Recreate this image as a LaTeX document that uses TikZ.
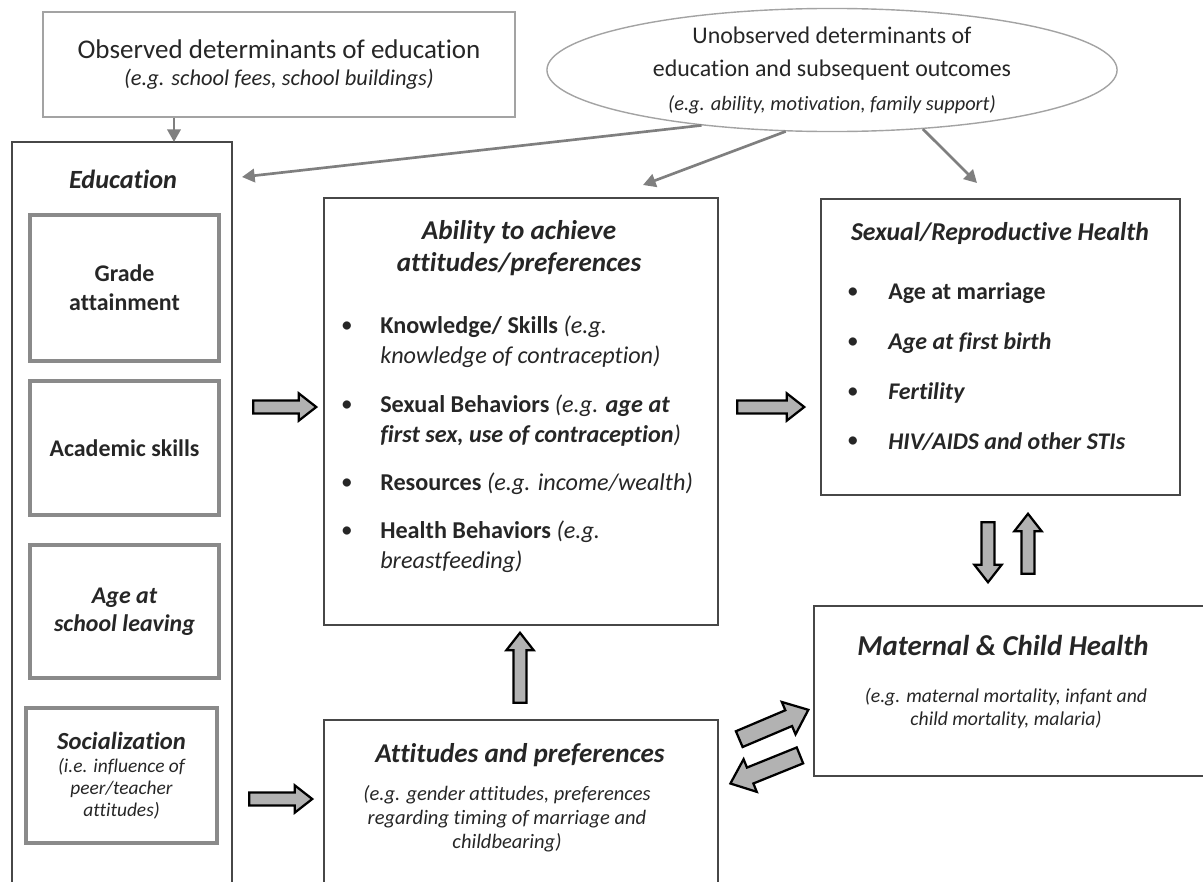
\documentclass[tikz,border=0pt]{standalone}
\usepackage{fontspec}
\setmainfont[Ligatures=CommonOff]{Carlito}
\usetikzlibrary{shapes.geometric,shapes.arrows,arrows.meta}

\definecolor{framegray}{HTML}{474747}
\definecolor{lightframe}{HTML}{A3A3A3}
\definecolor{subframe}{HTML}{8A8A8A}
\definecolor{linkgray}{HTML}{7F7F7F}
\definecolor{textgray}{HTML}{262626}

\tikzset{
  box/.style={draw=framegray, line width=1.1pt, inner sep=0pt},
  subbox/.style={draw=subframe, line width=2.3pt, inner sep=0pt, minimum width=4.725cm,
    align=center, font=\fontsize{17}{20.6}\selectfont\bfseries},
  title/.style={inner sep=0pt, align=center, font=\fontsize{19.3}{22.8}\selectfont\bfseries\itshape},
  item/.style={inner sep=0pt, anchor=west, align=left, font=\fontsize{17.2}{21.3}\selectfont},
  egtext/.style={inner sep=0pt, align=center, text=textgray, font=\fontsize{14.6}{17}\selectfont\itshape},
  dot/.style={inner sep=0pt, font=\fontsize{16.5}{20}\selectfont},
  link/.style={draw=linkgray, line width=1.9pt, -{Triangle[length=9pt,width=9.5pt]}},
  fat/.style={single arrow, draw=black, fill=gray!60, line width=1.6pt, inner sep=3.9pt,
    single arrow head extend=5pt, single arrow tip angle=76},
  bigfat/.style={fat, inner sep=5.3pt, single arrow head extend=6.4pt,
    single arrow tip angle=79, minimum height=1.875cm}
}

\begin{document}
\begin{tikzpicture}[x=0.025cm, y=-0.025cm, text=textgray]
  \useasboundingbox (0,0) rectangle (1203,881);

  % determinants on top
  \node[box, draw=lightframe, minimum width=11.8cm, minimum height=2.625cm, align=center,
    font=\fontsize{19.2}{19.5}\selectfont] (obs) at (279,64.5)
    {Observed determinants of education\\{\fontsize{16}{19}\selectfont\itshape (e.g. school fees, school buildings)}};
  \node[ellipse, draw=lightframe, line width=1pt, inner sep=0pt, minimum width=14.25cm,
    minimum height=2.85cm, align=center, font=\fontsize{17}{23.8}\selectfont] (unobs) at (832,70)
    {Unobserved determinants of\\education and subsequent outcomes\\{\fontsize{14.5}{19}\selectfont\itshape (e.g. ability, motivation, family support)}};

  % education column
  \node[box, minimum width=5.5cm, minimum height=18.7cm] (edu) at (122,516) {};
  \node[title, font=\fontsize{18.7}{20}\selectfont\bfseries\itshape] (eduT) at (123,179) {Education};
  \node[subbox, minimum height=3.65cm] (grade) at (124.5,288) {Grade\\attainment};
  \node[subbox, minimum height=3.35cm] (acad) at (124.5,448) {Academic skills};
  \node[subbox, minimum height=3.325cm, font=\fontsize{17}{19.9}\selectfont\bfseries\itshape] (leave) at (124.5,611.5) {Age at\\school leaving};
  \node[subbox, minimum width=4.775cm, minimum height=3.375cm, font=\fontsize{13.8}{15.6}\selectfont\itshape] (social) at (121.5,775.5)
    {{\fontsize{17.5}{20}\selectfont\bfseries Socialization}\\[1pt](i.e. influence of\\peer/teacher\\attitudes)};

  % ability to achieve
  \node[box, minimum width=9.85cm, minimum height=10.675cm] (ability) at (521,411.5) {};
  \node[title] (abilityT) at (519,248) {Ability to achieve\\attitudes/preferences};
  \node[dot] (dA1) at (347,327) {\textbullet};
  \node[dot] (dA2) at (347,406) {\textbullet};
  \node[dot] (dA3) at (347,484) {\textbullet};
  \node[dot] (dA4) at (347,532) {\textbullet};
  \node[item] (know) at (380,342) {\textbf{Knowledge/ Skills} \textit{(e.g.}\\ \textit{knowledge of contraception)}};
  \node[item] (sexb) at (380,421) {\textbf{Sexual Behaviors} \textit{(e.g. \textbf{age at}}\\ \textit{\textbf{first sex, use of contraception})}};
  \node[item] (res) at (380,484) {\textbf{Resources} \textit{(e.g. income/wealth)}};
  \node[item] (hb) at (380,547) {\textbf{Health Behaviors} \textit{(e.g.}\\ \textit{breastfeeding)}};

  % sexual and reproductive health
  \node[box, minimum width=8.975cm, minimum height=7.4cm] (srh) at (1000.5,347) {};
  \node[title, font=\fontsize{18.3}{22}\selectfont\bfseries\itshape] (srhT) at (1000,233) {Sexual/Reproductive Health};
  \node[dot] (dS1) at (853,293) {\textbullet};
  \node[dot] (dS2) at (853,343) {\textbullet};
  \node[dot] (dS3) at (853,393) {\textbullet};
  \node[dot] (dS4) at (853,442) {\textbullet};
  \node[item, font=\fontsize{17}{20}\selectfont\bfseries] (marr) at (888,293) {Age at marriage};
  \node[item, font=\fontsize{17}{20}\selectfont\bfseries\itshape] (birth) at (888,343) {Age at first birth};
  \node[item, font=\fontsize{17}{20}\selectfont\bfseries\itshape] (fert) at (888,393) {Fertility};
  \node[item, font=\fontsize{17}{20}\selectfont\bfseries\itshape] (hiv) at (888,442) {HIV/AIDS and other STIs};

  % maternal and child health
  \node[box, minimum width=9.8cm, minimum height=4.25cm] (mch) at (1010,691) {};
  \node[title, font=\fontsize{20.5}{22}\selectfont\bfseries\itshape] (mchT) at (1003,645) {Maternal \& Child Health};
  \node[egtext, font=\fontsize{14}{16.4}\selectfont\itshape] (mchS) at (1006,708.5)
    {(e.g. maternal mortality, infant and\\child mortality, malaria)};

  % attitudes and preferences
  \node[box, minimum width=9.85cm, minimum height=4.5cm] (att) at (521,810) {};
  \node[title] (attT) at (520,755) {Attitudes and preferences};
  \node[egtext] (attS) at (507,819)
    {(e.g. gender attitudes, preferences\\regarding timing of marriage and\\childbearing)};

  % block arrows
  \node[fat, minimum height=1.575cm] (toAbility) at (280.5,407) {};
  \node[fat, minimum height=1.575cm] (toAtt) at (276.5,799) {};
  \node[fat, minimum height=1.675cm] (toSrh) at (766.5,407) {};
  \node[fat, minimum height=1.75cm, shape border rotate=90] (attUp) at (520,672) {};
  \node[fat, minimum height=1.5cm, shape border rotate=270] (srhDown) at (988,548) {};
  \node[fat, minimum height=1.5cm, shape border rotate=90] (mchUp) at (1028,548) {};
  \node[bigfat, rotate=23] (attToMch) at (769,726.5) {};
  \node[bigfat, rotate=202] (mchToAtt) at (770,767.5) {};

  % thin links
  \coordinate (eduIn) at (174,142);
  \coordinate (eduSide) at (242,177);
  \coordinate (abilityIn) at (643,185);
  \coordinate (srhIn) at (977,183);
  \draw[link] (obs.south -| eduIn) -- (eduIn);
  \draw[link] (unobs.203) -- (eduSide);
  \draw[link] (unobs.233) -- (abilityIn);
  \draw[link] (unobs.327) -- (srhIn);
\end{tikzpicture}
\end{document}
